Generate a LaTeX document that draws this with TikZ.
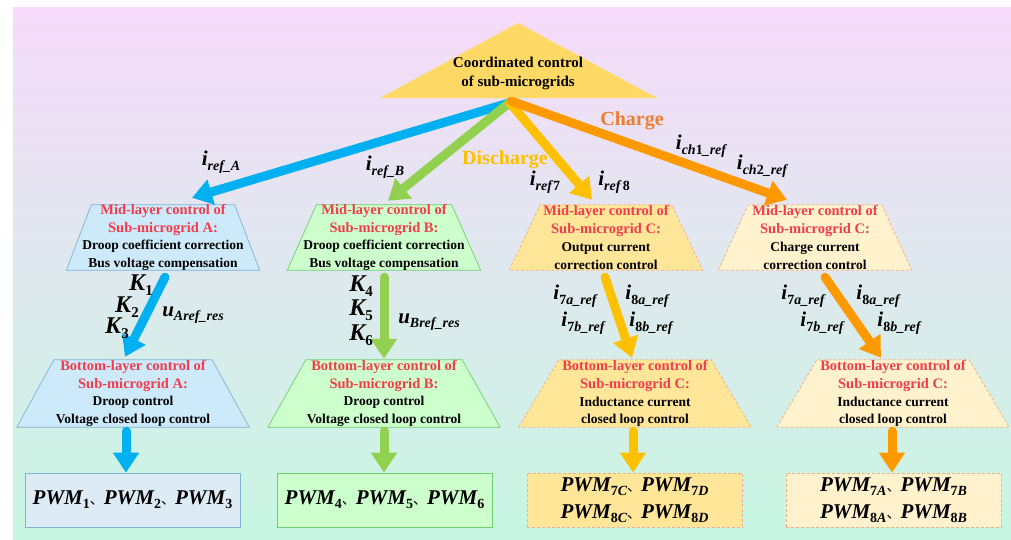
\documentclass[tikz,border=0pt]{standalone}
\usepackage{fontspec}
\setmainfont{Liberation Serif}
\newfontfamily\cjk{Noto Sans CJK SC}
\usetikzlibrary{arrows.meta}
\definecolor{cblue}{HTML}{00B0F0}
\definecolor{cgreen}{HTML}{92D050}
\definecolor{cyellow}{HTML}{FFC000}
\definecolor{corange}{HTML}{FF9900}
\definecolor{tred}{HTML}{F23C4C}
\definecolor{tcharge}{HTML}{ED7D31}
\definecolor{bgtop}{HTML}{F6DBFA}
\definecolor{bgbot}{HTML}{C7F6E2}
\definecolor{fillA}{HTML}{CCEAFA}
\definecolor{strokeA}{HTML}{7FB3D5}
\definecolor{fillPA}{HTML}{DCEBF4}
\definecolor{fillB}{HTML}{CCFFCC}
\definecolor{strokeB}{HTML}{6DCF6D}
\definecolor{fillC}{HTML}{FFE699}
\definecolor{fillD}{HTML}{FFF2CC}
\definecolor{strokeC}{HTML}{F4B183}
\definecolor{trifill}{HTML}{FFD966}
\newcommand{\rt}[1]{{\fontsize{14.5}{17.7}\selectfont\color{tred}#1}}
\newcommand{\bt}[1]{{\fontsize{13.5}{17.7}\selectfont #1}}
\newcommand{\lbl}[2]{{\fontsize{21}{21}\selectfont\bfseries\itshape #1}\raisebox{-4.5pt}{\fontsize{14}{14}\selectfont\bfseries\itshape #2}}
\newcommand{\klbl}[1]{{\fontsize{24}{24}\selectfont\bfseries\itshape K}\raisebox{-5pt}{\fontsize{15}{15}\selectfont\bfseries #1}}
\newcommand{\pw}[1]{PWM\raisebox{-4pt}{\fontsize{14}{14}\selectfont #1}}
\newcommand{\dn}{{\cjk\fontsize{14}{14}\selectfont\mdseries\upshape 、}}
% trapezium outline drawn on a named rectangle node: #1 node, #2 side offset, #3 style
\newcommand{\trapz}[3]{\path[#3] (#1.south west) -- ([xshift=#2]#1.north west) -- ([xshift=-#2]#1.north east) -- (#1.south east) -- cycle;}
\tikzset{
  midbox/.style={rectangle, minimum width=193pt, minimum height=65pt, inner sep=0pt},
  botbox/.style={rectangle, minimum width=232pt, minimum height=67pt, inner sep=0pt},
  pwmbox/.style={rectangle, minimum width=215pt, minimum height=54pt, inner sep=0pt,
    font=\bfseries\itshape\fontsize{21}{27}\selectfont, align=center},
  solidA/.style={fill=fillA, draw=strokeA, line width=0.7pt},
  solidB/.style={fill=fillB, draw=strokeB, line width=0.7pt},
  dashC/.style={fill=fillC, draw=strokeC, line width=0.8pt, dash pattern=on 3pt off 2pt},
  dashD/.style={fill=fillD, draw=strokeC, line width=0.8pt, dash pattern=on 3pt off 2pt},
  boxtext/.style={align=center, inner sep=0pt, font=\bfseries\fontsize{14}{17.7}\selectfont},
  lab/.style={inner sep=0pt},
  bigarrow/.style={line width=9pt, line cap=round, -{Triangle[width=25pt,length=20pt]}},
}
\begin{document}
\begin{tikzpicture}[x=1pt,y=-1pt]
\useasboundingbox (0,0) rectangle (1011,539);
\fill[top color=bgtop, bottom color=bgbot] (13,7) rectangle (1011,539);

% top triangle
\fill[trifill] (380,98) -- (518,23) -- (657,98) -- cycle;
\node[boxtext, font=\bfseries\fontsize{15}{19}\selectfont] (top) at (518,73) {Coordinated control\\of sub-microgrids};
\coordinate (src) at (509,103);

% mid boxes
\node[midbox] (midA) at (163,237.5) {};
\node[midbox] (midB) at (384,237.5) {};
\node[midbox] (midC) at (606,237.5) {};
\node[midbox] (midD) at (815,237.5) {};
\trapz{midA}{25pt}{solidA}
\trapz{midB}{29pt}{solidB}
\trapz{midC}{31pt}{dashC}
\trapz{midD}{30pt}{dashD}
\node[boxtext] (tmidA) at (midA.center) {\rt{Mid-layer control of}\\\rt{Sub-microgrid A:}\\\bt{Droop coefficient correction}\\\bt{Bus voltage compensation}};
\node[boxtext] (tmidB) at (midB.center) {\rt{Mid-layer control of}\\\rt{Sub-microgrid B:}\\\bt{Droop coefficient correction}\\\bt{Bus voltage compensation}};
\node[boxtext] (tmidC) at (midC.center) {\rt{Mid-layer control of}\\\rt{Sub-microgrid C:}\\\bt{Output current}\\\bt{correction control}};
\node[boxtext] (tmidD) at (midD.center) {\rt{Mid-layer control of}\\\rt{Sub-microgrid C:}\\\bt{Charge current}\\\bt{correction control}};

% bottom boxes
\node[botbox] (botA) at (133,393.5) {};
\node[botbox] (botB) at (384,393.5) {};
\node[botbox] (botC) at (635,393.5) {};
\node[botbox] (botD) at (893,393.5) {};
\trapz{botA}{37pt}{solidA}
\trapz{botB}{38pt}{solidB}
\trapz{botC}{40pt}{dashC}
\trapz{botD}{40pt}{dashD}
\node[boxtext] (tbotA) at (botA.center) {\rt{Bottom-layer control of}\\\rt{Sub-microgrid A:}\\\bt{Droop control}\\\bt{Voltage closed loop control}};
\node[boxtext] (tbotB) at (botB.center) {\rt{Bottom-layer control of}\\\rt{Sub-microgrid B:}\\\bt{Droop control}\\\bt{Voltage closed loop control}};
\node[boxtext] (tbotC) at (botC.center) {\rt{Bottom-layer control of}\\\rt{Sub-microgrid C:}\\\bt{Inductance current}\\\bt{closed loop control}};
\node[boxtext] (tbotD) at (botD.center) {\rt{Bottom-layer control of}\\\rt{Sub-microgrid C:}\\\bt{Inductance current}\\\bt{closed loop control}};

% PWM boxes
\node[pwmbox, fill=fillPA, draw=strokeA, line width=0.7pt] (pA) at (132.5,500) {\pw{\textup{1}}\dn\pw{\textup{2}}\dn\pw{\textup{3}}};
\node[pwmbox, solidB] (pB) at (384.5,500) {\pw{\textup{4}}\dn\pw{\textup{5}}\dn\pw{\textup{6}}};
\node[pwmbox, dashC] (pC) at (634.5,500) {\pw{\textup{7}C}\dn\pw{\textup{7}D}\\\pw{\textup{8}C}\dn\pw{\textup{8}D}};
\node[pwmbox, dashD] (pD) at (893.5,500) {\pw{\textup{7}A}\dn\pw{\textup{7}B}\\\pw{\textup{8}A}\dn\pw{\textup{8}B}};

% top arrows
\draw[bigarrow, cblue] (src) -- ([xshift=29pt,yshift=7pt]midA.north);
\draw[bigarrow, cgreen] (src) -- ([xshift=4pt,yshift=4pt]midB.north);
\draw[bigarrow, cyellow] ([xshift=1pt]src) -- ([xshift=-14pt,yshift=5pt]midC.north);
\draw[bigarrow, corange] ([xshift=2pt,yshift=2pt]src) -- ([xshift=-28pt,yshift=5pt]midD.north);

% mid -> bottom arrows
\draw[bigarrow, cblue] ([xshift=2pt,yshift=-7pt]midA.south) -- ([xshift=-8pt,yshift=3pt]botA.north);
\draw[bigarrow, cgreen] ([yshift=-7pt]midB.south) -- ([yshift=1pt]botB.north);
\draw[bigarrow, cyellow] ([xshift=-1pt,yshift=-7pt]midC.south) -- ([xshift=-3pt,yshift=2pt]botC.north);
\draw[bigarrow, corange] ([xshift=10pt,yshift=-7pt]midD.south) -- ([xshift=-12pt,yshift=2pt]botD.north);

% bottom -> PWM arrows
\draw[bigarrow, cblue] ([xshift=-7pt,yshift=-4pt]botA.south) -- ([xshift=-6.5pt]pA.north);
\draw[bigarrow, cgreen] ([yshift=-4pt]botB.south) -- ([xshift=-0.5pt]pB.north);
\draw[bigarrow, cyellow] ([xshift=-2pt,yshift=-4pt]botC.south) -- ([xshift=-1.5pt]pC.north);
\draw[bigarrow, corange] ([xshift=-1pt,yshift=-4pt]botD.south) -- ([xshift=-1.5pt]pD.north);

% labels top
\node[lab] (lA) at (221,162) {\lbl{i}{ref\_A}};
\node[lab] (lB) at (385,167) {\lbl{i}{ref\_B}};
\node[lab] (l7) at (545,182) {\lbl{i}{ref\textup{7}}};
\node[lab] (l8) at (614,182) {\lbl{i}{ref\,\textup{8}}};
\node[lab] (lch1) at (701,146) {\lbl{i}{ch\textup{1}\_ref}};
\node[lab] (lch2) at (762,166) {\lbl{i}{ch\textup{2}\_ref}};
\node[lab, text=cyellow, font=\bfseries\fontsize{20}{20}\selectfont] (dis) at (505,160) {Discharge};
\node[lab, text=tcharge, font=\bfseries\fontsize{20}{20}\selectfont] (chg) at (632,121) {Charge};

% labels mid
\node[lab] (k1) at (141,285) {\klbl{1}};
\node[lab] (k2) at (127,307) {\klbl{2}};
\node[lab] (k3) at (117,328) {\klbl{3}};
\node[lab] (uA) at (193,315) {\lbl{u}{Aref\_res}};
\node[lab] (k4) at (361,286) {\klbl{4}};
\node[lab] (k5) at (361,310) {\klbl{5}};
\node[lab] (k6) at (361,335) {\klbl{6}};
\node[lab] (uB) at (429,322) {\lbl{u}{Bref\_res}};
\node[lab] (c7a) at (575,296) {\lbl{i}{\textup{7}a\_ref}};
\node[lab] (c8a) at (647,296) {\lbl{i}{\textup{8}a\_ref}};
\node[lab] (c7b) at (583,323) {\lbl{i}{\textup{7}b\_ref}};
\node[lab] (c8b) at (651,323) {\lbl{i}{\textup{8}b\_ref}};
\node[lab] (d7a) at (803,296) {\lbl{i}{\textup{7}a\_ref}};
\node[lab] (d8a) at (878,296) {\lbl{i}{\textup{8}a\_ref}};
\node[lab] (d7b) at (822,323) {\lbl{i}{\textup{7}b\_ref}};
\node[lab] (d8b) at (899,323) {\lbl{i}{\textup{8}b\_ref}};
\end{tikzpicture}
\end{document}
